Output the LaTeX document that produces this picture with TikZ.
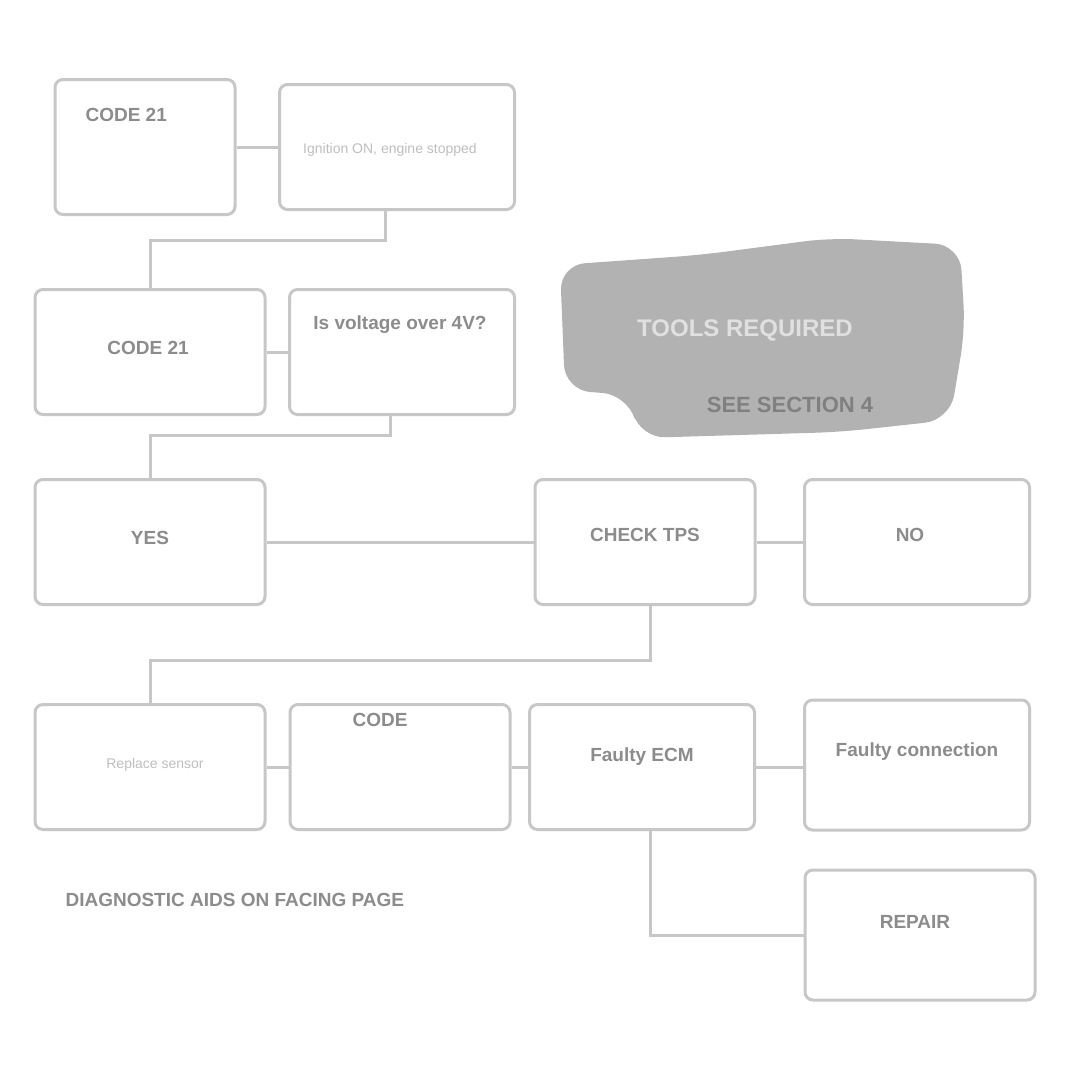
\documentclass[tikz,border=0pt]{standalone}
\usepackage{fontspec}
\setmainfont{Liberation Sans}
\usetikzlibrary{arrows.meta}
\begin{document}
\begin{tikzpicture}[x=1pt,y=-1pt,
  box/.style={draw=black!22,line width=3pt,rounded corners=8pt,fill=white,inner sep=4pt,align=center},
  conn/.style={draw=black!22,line width=3pt},
  dtxt/.style={font=\bfseries\fontsize{19}{22}\selectfont,text=black!45,align=center},
  ltxt/.style={font=\fontsize{14}{17}\selectfont,text=black!25,align=center},
  wtxt/.style={font=\bfseries\fontsize{24}{28}\selectfont,text=black!12,align=center},
  gtxt/.style={font=\bfseries\fontsize{22}{26}\selectfont,text=black!50,align=center}]
\useasboundingbox (0,0) rectangle (1072,1071);
\fill[white] (0,0) rectangle (1072,1071);

% blob
\fill[black!30,rounded corners=25pt] (560,265) -- (700,255) -- (830,238) -- (960,245) -- (965,330) -- (950,420) -- (840,432) -- (640,438) -- (628,395) -- (565,390) -- cycle;
\node[wtxt] (blobt) at (745,330) {TOOLS REQUIRED};
\node[gtxt] (blobb) at (790,405) {SEE SECTION 4};

% row 1
\node[box,minimum width=180,minimum height=135] (a) at (145,147) {};
\node[dtxt,anchor=west] (at) at (82,115) {CODE 21};
\node[box,minimum width=235,minimum height=125] (b) at (397,147) {};
\node[ltxt] (bt) at (390,150) {Ignition ON, engine stopped};

% row 2
\node[box,minimum width=230,minimum height=125] (c) at (150,352) {};
\node[dtxt] (ct) at (148,348) {CODE 21};
\node[box,minimum width=225,minimum height=125] (d) at (402,352) {};
\node[dtxt] (dt) at (400,325) {Is voltage over 4V?};

% row 3
\node[box,minimum width=230,minimum height=125] (e) at (150,542) {};
\node[dtxt] (et) at (150,538) {YES};
\node[box,minimum width=220,minimum height=125] (f) at (645,542) {};
\node[dtxt] (ft) at (645,535) {CHECK TPS};
\node[box,minimum width=225,minimum height=125] (g) at (917,542) {};
\node[dtxt] (gt) at (910,535) {NO};

% row 4
\node[box,minimum width=230,minimum height=125] (h) at (150,767) {};
\node[ltxt] (ht) at (155,765) {Replace sensor};
\node[box,minimum width=220,minimum height=125] (i) at (400,767) {};
\node[dtxt] (it) at (380,720) {CODE};
\node[box,minimum width=225,minimum height=125] (j) at (642,767) {};
\node[dtxt] (jt) at (642,757) {Faulty ECM};
\node[box,minimum width=225,minimum height=130] (k) at (917,765) {};
\node[dtxt] (kt) at (917,752) {Faulty connection};

% row 5
\node[box,minimum width=230,minimum height=130] (l) at (920,935) {};
\node[dtxt] (lt) at (915,922) {REPAIR};

\node[dtxt,anchor=west] (cap) at (62,900) {DIAGNOSTIC AIDS ON FACING PAGE};

% connectors
\draw[conn] (a.east) -- (b.west);
\draw[conn] (b.south -| 385,0) -- (385,240) -- (150,240) -- (c.north);
\draw[conn] (c.east) -- (d.west);
\draw[conn] (d.south -| 390,0) -- (390,435) -- (150,435) -- (e.north);
\draw[conn] (e.east) -- (f.west);
\draw[conn] (f.east) -- (g.west);
\draw[conn] (f.south -| 650,0) -- (650,660) -- (150,660) -- (h.north);
\draw[conn] (h.east) -- (i.west);
\draw[conn] (i.east) -- (j.west);
\draw[conn] (j.east) -- (k.west |- j.east);
\draw[conn] (j.south -| 650,0) -- (650,935) -- (l.west);
\end{tikzpicture}
\end{document}
